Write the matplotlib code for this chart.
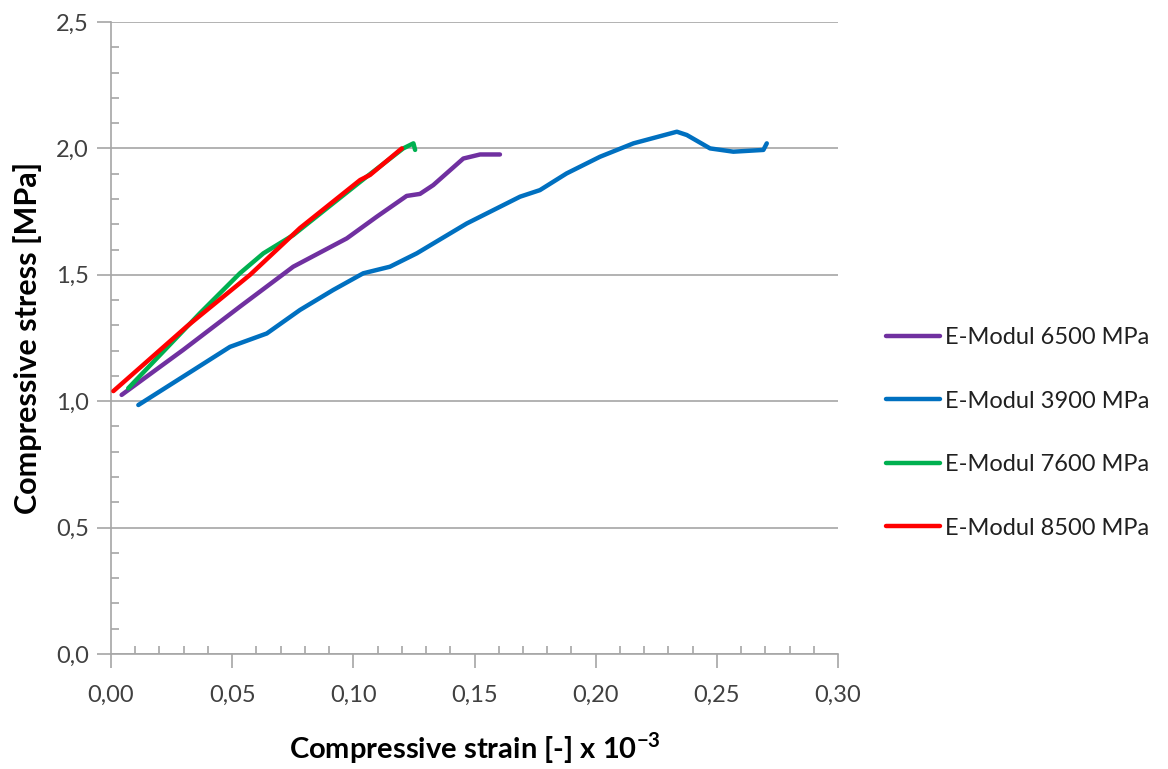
import matplotlib
matplotlib.use("Agg")
import matplotlib.pyplot as plt
from matplotlib.ticker import MultipleLocator, FuncFormatter

plt.rcParams['font.family'] = ['Lato', 'DejaVu Sans']
plt.rcParams['mathtext.fontset'] = 'custom'
plt.rcParams['mathtext.rm'] = 'Lato'
plt.rcParams['mathtext.bf'] = 'Lato:bold'

# Stress-strain curves (strain x 10^-3, stress in MPa)
strain_6500 = [0.0044, 0.0298, 0.0532, 0.0752, 0.0973, 0.1097, 0.1220, 0.1275,
               0.1330, 0.1454, 0.1523, 0.1605]
stress_6500 = [1.025, 1.203, 1.374, 1.532, 1.644, 1.730, 1.812, 1.820,
               1.855, 1.960, 1.976, 1.976]

strain_3900 = [0.0113, 0.0340, 0.0491, 0.0643, 0.0780, 0.0917, 0.1041, 0.1151,
               0.1262, 0.1468, 0.1605, 0.1688, 0.1770, 0.1880, 0.2018, 0.2156,
               0.2335, 0.2376, 0.2472, 0.2568, 0.2692, 0.2706]
stress_3900 = [0.985, 1.123, 1.215, 1.268, 1.361, 1.440, 1.506, 1.532,
               1.585, 1.703, 1.769, 1.809, 1.835, 1.901, 1.967, 2.020,
               2.066, 2.053, 2.000, 1.987, 1.994, 2.020]

strain_7600 = [0.0071, 0.0367, 0.0532, 0.0629, 0.0752, 0.0917, 0.1055, 0.1206,
               0.1248, 0.1255]
stress_7600 = [1.051, 1.348, 1.506, 1.585, 1.657, 1.783, 1.888, 2.000,
               2.020, 1.994]

strain_8500 = [0.0010, 0.0312, 0.0574, 0.0780, 0.1028, 0.1069, 0.1200]
stress_8500 = [1.040, 1.295, 1.500, 1.685, 1.875, 1.895, 2.000]

series = [
    ("E-Modul 6500 MPa", strain_6500, stress_6500, "#7030A0"),
    ("E-Modul 3900 MPa", strain_3900, stress_3900, "#0070C0"),
    ("E-Modul 7600 MPa", strain_7600, stress_7600, "#00B050"),
    ("E-Modul 8500 MPa", strain_8500, stress_8500, "#FF0000"),
]

fig = plt.figure(figsize=(11.68, 7.69), dpi=100)
ax = fig.add_axes([0.095, 0.1495, 0.6225, 0.8219])

for label, x, y, c in series:
    ax.plot(x, y, color=c, lw=3.2, label=label, solid_joinstyle="round",
            solid_capstyle="round", zorder=3)

ax.set_xlim(0, 0.30)
ax.set_ylim(0, 2.5)

grid_c = "#A6A6A6"
ax.xaxis.set_major_locator(MultipleLocator(0.05))
ax.xaxis.set_minor_locator(MultipleLocator(0.01))
ax.yaxis.set_major_locator(MultipleLocator(0.5))
ax.yaxis.set_minor_locator(MultipleLocator(0.1))
ax.xaxis.set_major_formatter(FuncFormatter(lambda v, p: f"{v:.2f}".replace(".", ",")))
ax.yaxis.set_major_formatter(FuncFormatter(lambda v, p: f"{v:.1f}".replace(".", ",")))

ax.grid(axis="y", which="major", color=grid_c, lw=1.2, zorder=0)
for s in ["top", "right"]:
    ax.spines[s].set_visible(False)
for s in ["left", "bottom"]:
    ax.spines[s].set_color(grid_c)
    ax.spines[s].set_linewidth(1.2)

ax.tick_params(axis="x", which="major", direction="out", length=10, width=1.2,
               color=grid_c, labelsize=17, labelcolor="#404040", pad=12)
ax.tick_params(axis="x", which="minor", direction="in", length=6, width=1.2,
               color=grid_c)
ax.tick_params(axis="y", which="major", direction="out", length=10, width=1.2,
               color=grid_c, labelsize=17, labelcolor="#404040", pad=6)
ax.tick_params(axis="y", which="minor", direction="in", length=6, width=1.2,
               color=grid_c)

ax.set_xlabel(r"Compressive strain [-] x 10$^{\mathbf{-3}}$", fontsize=21,
              fontweight="bold", labelpad=18)
ax.set_ylabel("Compressive stress [MPa]", fontsize=22, fontweight="bold",
              labelpad=10)

leg = fig.legend(loc="center left", bbox_to_anchor=(0.740, 0.437), frameon=False,
                 fontsize=17, handlelength=2.3, handletextpad=0.2,
                 labelspacing=1.8, labelcolor="#202020")

fig.savefig("out.png", dpi=100)
